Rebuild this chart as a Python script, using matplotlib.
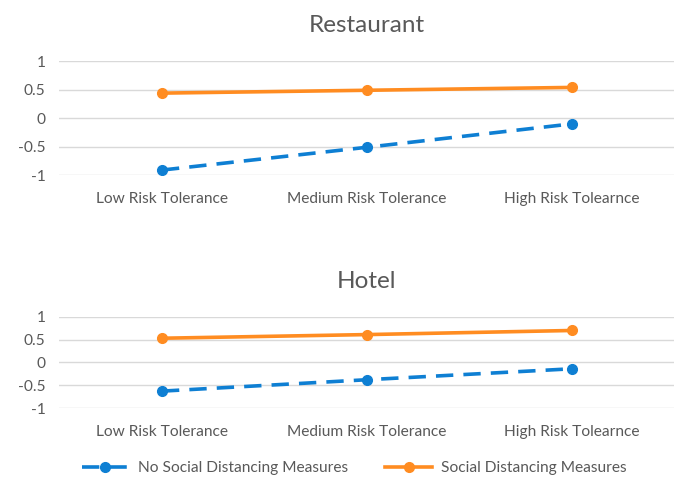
import matplotlib.pyplot as plt
from matplotlib.lines import Line2D

categories = ["Low Risk Tolerance", "Medium Risk Tolerance", "High Risk Tolearnce"]
restaurant_no_sd = [-0.91, -0.51, -0.10]
restaurant_sd = [0.44, 0.49, 0.54]
hotel_no_sd = [-0.63, -0.38, -0.14]
hotel_sd = [0.53, 0.61, 0.70]
y_ticks = [-1, -0.5, 0, 0.5, 1]
y_tick_labels = ["-1", "-0.5", "0", "0.5", "1"]

BLUE = "#0E7FD3"
ORANGE = "#FF8C21"
GREY = "#595959"
GRID = "#D9D9D9"
DASH = (0, (4.8, 2.8))

plt.rcParams['font.family'] = ['Lato', 'DejaVu Sans']

fig = plt.figure(figsize=(6.8, 4.8), dpi=100)
ax1 = fig.add_axes([0.0875, 0.635, 0.904, 0.2375])
ax2 = fig.add_axes([0.0875, 0.15, 0.904, 0.19])


def style_panel(ax, title, no_sd, sd):
    x = range(len(categories))
    ax.plot(x, no_sd, color=BLUE, lw=2.6, ls=DASH,
            marker='o', ms=7, dash_capstyle='butt', zorder=3)
    ax.plot(x, sd, color=ORANGE, lw=2.6, marker='o', ms=7, zorder=3)
    ax.set_xlim(-0.5, len(categories) - 0.5)
    ax.set_ylim(-1, 1)
    ax.set_yticks(y_ticks)
    ax.set_yticklabels(y_tick_labels)
    ax.set_xticks(list(x))
    ax.set_xticklabels(categories)
    ax.yaxis.grid(True, color=GRID, lw=1)
    ax.set_axisbelow(True)
    for s in ax.spines.values():
        s.set_visible(False)
    ax.tick_params(length=0, colors=GREY, labelsize=11.2)
    ax.tick_params(axis='x', pad=12)
    ax.tick_params(axis='y', pad=10)
    ax.set_title(title, color=GREY, fontsize=17.5, pad=21)


style_panel(ax1, "Restaurant", restaurant_no_sd, restaurant_sd)
style_panel(ax2, "Hotel", hotel_no_sd, hotel_sd)

handles = [
    Line2D([], [], color=BLUE, lw=2.6, ls=DASH, marker='o', ms=7),
    Line2D([], [], color=ORANGE, lw=2.6, marker='o', ms=7),
]
fig.legend(handles, ["No Social Distancing Measures", "Social Distancing Measures"],
           loc='center', bbox_to_anchor=(0.521, 0.025), ncol=2, frameon=False,
           fontsize=11.2, labelcolor=GREY, handlelength=3.0, handletextpad=0.6,
           columnspacing=2.4)

fig.savefig("out.png", dpi=100)
